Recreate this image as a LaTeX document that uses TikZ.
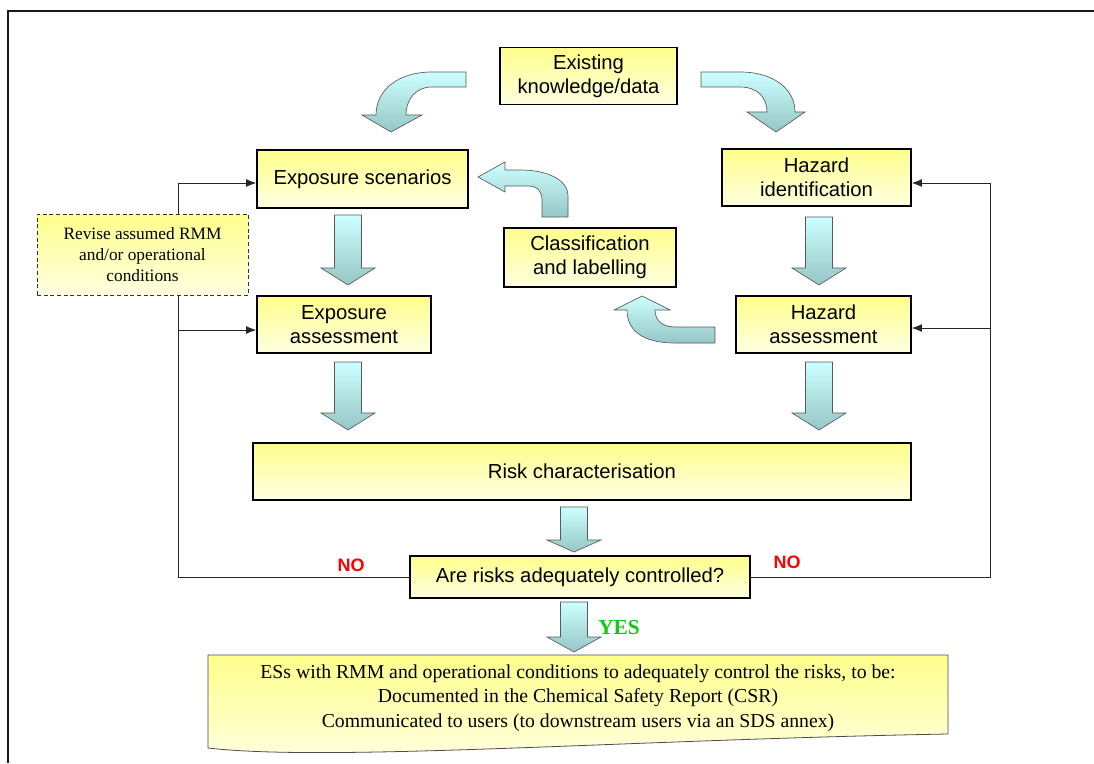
\documentclass[tikz,border=0pt]{standalone}
\usepackage{fontspec}
\setmainfont{Liberation Serif}
\setsansfont{Liberation Sans}
\usetikzlibrary{arrows.meta}

\definecolor{boxtop}{RGB}{255,255,140}
\definecolor{boxbot}{RGB}{255,255,225}
\definecolor{arrtop}{RGB}{204,255,255}
\definecolor{arrbot}{RGB}{150,198,198}
\definecolor{noRed}{RGB}{255,0,0}
\definecolor{yesGreen}{RGB}{20,200,20}

% block arrow pointing down: centre x, shaft top y, tip y, head length
\newcommand\blkdown[4]{%
  \shade[blk] (#1-13.5,#2) -- (#1+13.5,#2) -- (#1+13.5,#3-#4) -- (#1+27,#3-#4)
    -- (#1,#3) -- (#1-27,#3-#4) -- (#1-13.5,#3-#4) -- cycle;}

\begin{document}
\begin{tikzpicture}[x=0.75pt,y=-0.75pt,
  stepbox/.style={draw=black,line width=1.3pt,top color=boxtop,bottom color=boxbot,
    font=\sffamily\fontsize{15.2}{18}\selectfont,align=center,inner sep=0pt},
  revbox/.style={draw=black!80,densely dashed,line width=0.5pt,top color=boxtop,bottom color=boxbot,
    font=\rmfamily\fontsize{13}{15.5}\selectfont,align=center,inner sep=0pt},
  blk/.style={draw=black!65,line width=0.5pt,top color=arrtop,bottom color=arrbot},
  fb/.style={draw=black!85,line width=0.6pt},
  fbarrow/.style={fb,-{Latex[length=7.5pt,width=6pt]}},
  nolabel/.style={text=noRed,font=\sffamily\bfseries\fontsize{13.5}{16}\selectfont},
  yeslabel/.style={text=yesGreen,font=\rmfamily\bfseries\fontsize{16}{19}\selectfont}]

\useasboundingbox (0,0) rectangle (1094,763);

% outer frame (top and left edges)
\draw[line width=1.6pt,black!90] (1094,11) -- (8,11) -- (8,763);

% process boxes
\node[stepbox,minimum width=132.75pt,minimum height=42.75pt] (ekd) at (588.5,76) {Existing\\knowledge/data};
\node[stepbox,minimum width=158.25pt,minimum height=43.5pt] (es) at (362.5,179) {Exposure scenarios};
\node[stepbox,minimum width=130.5pt,minimum height=42.75pt] (ea) at (344,324.5) {Exposure\\assessment};
\node[stepbox,minimum width=141.75pt,minimum height=42.75pt] (hi) at (816.5,177.5) {Hazard\\identification};
\node[stepbox,minimum width=131.25pt,minimum height=42.75pt] (ha) at (823.5,324.5) {Hazard\\assessment};
\node[stepbox,minimum width=129pt,minimum height=44.25pt] (cl) at (590,257.5) {Classification\\and labelling};
\node[stepbox,minimum width=493.5pt,minimum height=42.75pt] (rc) at (582,471.5) {Risk characterisation};
\node[stepbox,minimum width=255pt,minimum height=31.5pt] (dec) at (580,577) {Are risks adequately controlled?};

% feedback loops
\coordinate (Ltop) at (178,183);
\coordinate (Lmid) at (178,330);
\coordinate (Rtop) at (990,183);
\coordinate (Rmid) at (990,328);
\draw[fbarrow] (dec.west) -| (Ltop) -- (Ltop -| es.west);
\draw[fbarrow] (Lmid) -- (Lmid -| ea.west);
\draw[fbarrow] (dec.east) -| (Rtop) -- (Rtop -| hi.east);
\draw[fbarrow] (Rmid) -- (Rmid -| ha.east);

\node[revbox,minimum width=158.25pt,minimum height=60.75pt] (rev) at (142.5,254.5)
  {Revise assumed RMM\\and/or operational\\conditions};

\node[nolabel] (noL) at (351,565) {NO};
\node[nolabel] (noR) at (787,562) {NO};

% curved block arrows from the existing knowledge box
\shade[blk] (466,72) -- (432,72) .. controls (398,72) and (376,90) .. (376,115)
  -- (362,115) -- (391,132) -- (422,115) -- (406,115)
  .. controls (406,100) and (415,87) .. (432,87) -- (466,87) -- cycle;
\shade[blk] (701,72) -- (740,72) .. controls (775,72) and (795,90) .. (795,112)
  -- (805,112) -- (776,132) -- (747,112) -- (767,112)
  .. controls (767,98) and (758,87) .. (740,87) -- (701,87) -- cycle;

% curved block arrows around classification and labelling
\shade[blk] (568,217) -- (568,196) .. controls (568,180) and (548,170) .. (520,170)
  -- (505,170) -- (505,162) -- (478,177) -- (505,192) -- (505,186) -- (528,186)
  .. controls (538,186) and (542,192) .. (542,200) -- (542,217) -- cycle;
\shade[blk] (715,327) -- (675,327) .. controls (662,327) and (655,320) .. (655,310)
  -- (670,310) -- (642,296) -- (614,310) -- (627,310)
  .. controls (627,330) and (642,343) .. (675,343) -- (715,343) -- cycle;

% straight block arrows
\blkdown{348}{215}{285}{17}
\blkdown{348}{362}{430}{17}
\blkdown{819}{217}{285}{17}
\blkdown{819}{362}{430}{17}
\blkdown{574}{507}{552}{12}
\blkdown{574}{602}{652}{15}

\node[yeslabel] (yes) at (619,628) {YES};

% outcome document shape
\shade[draw=black!70,line width=0.6pt,top color=boxtop,bottom color=boxbot]
  (208,655) -- (948,655) -- (948,734) .. controls (620,740) and (330,762) .. (208,748) -- cycle;
\node[font=\rmfamily\fontsize{14.8}{18.4}\selectfont,align=center] (out) at (578,698)
  {ESs with RMM and operational conditions to adequately control the risks, to be:\\
   Documented in the Chemical Safety Report (CSR)\\
   Communicated to users (to downstream users via an SDS annex)};

\end{tikzpicture}
\end{document}
